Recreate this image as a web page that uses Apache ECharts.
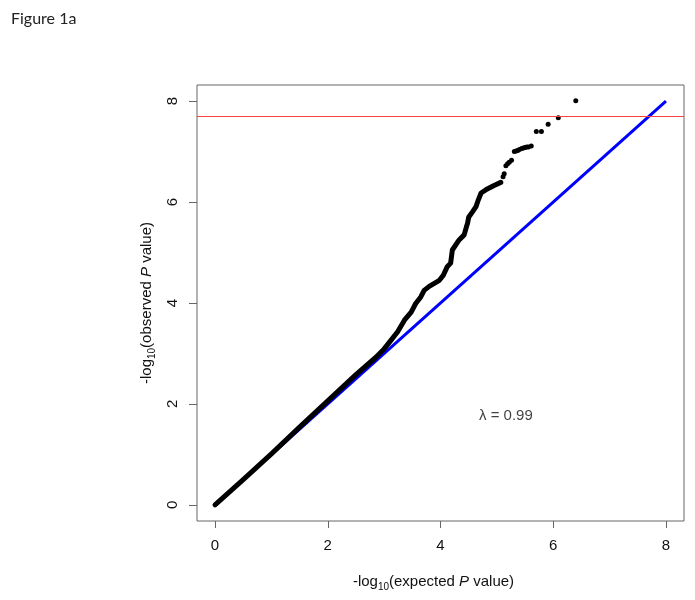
<!DOCTYPE html>
<html>
<head>
<meta charset="utf-8">
<script src="https://cdn.jsdelivr.net/npm/echarts@6.0.0/dist/echarts.min.js"></script>
<style>
html,body{margin:0;padding:0;background:#fff;}
#chart{width:695px;height:600px;}
</style>
</head>
<body>
<div id="chart"></div>
<script>
// Tick values
var xTicks = [0, 2, 4, 6, 8];
var yTicks = [0, 2, 4, 6, 8];
// Dense part of observed QQ curve: [expected, observed]
var denseCurve = [
  [0, 0], [0.5, 0.5], [1.0, 1.01], [1.5, 1.54], [2.0, 2.06], [2.5, 2.58],
  [2.85, 2.92], [3.00, 3.09], [3.12, 3.26], [3.24, 3.43], [3.36, 3.66],
  [3.48, 3.82], [3.56, 3.99], [3.65, 4.12], [3.71, 4.25], [3.80, 4.33],
  [3.98, 4.45], [4.05, 4.55], [4.12, 4.72], [4.18, 4.79], [4.21, 5.05],
  [4.33, 5.25], [4.42, 5.35], [4.46, 5.51], [4.48, 5.58], [4.50, 5.70],
  [4.57, 5.81], [4.63, 5.91], [4.67, 6.04], [4.72, 6.18], [4.83, 6.26],
  [4.95, 6.33], [5.07, 6.39]
];
// Sparse top points: [expected, observed]
var topPoints = [
  [5.11, 6.50], [5.13, 6.56], [5.16, 6.72], [5.19, 6.76], [5.22, 6.79],
  [5.26, 6.83], [5.31, 7.00], [5.34, 7.01], [5.37, 7.02], [5.40, 7.04],
  [5.44, 7.06], [5.47, 7.07], [5.50, 7.08], [5.53, 7.09], [5.56, 7.09],
  [5.61, 7.11], [5.70, 7.40], [5.79, 7.40], [5.91, 7.54], [6.09, 7.67],
  [6.40, 8.01]
];
// Expected null line
var nullLine = [[0, 0], [8, 8]];
// Significance threshold
var threshold = 7.7;
// Lambda annotation
var lambdaText = 'λ = 0.99';
var lambdaPos = [5.16, 1.76];

var chart = echarts.init(document.getElementById('chart'), null, {renderer: 'canvas'});
var font = 'Liberation Sans';
var richName = {
  n: {fontFamily: font, fontSize: 15, color: '#111', lineHeight: 20, verticalAlign: 'middle'},
  i: {fontFamily: font, fontSize: 15, color: '#111', fontStyle: 'italic', lineHeight: 20, verticalAlign: 'middle'},
  s: {fontFamily: font, fontSize: 10, color: '#111', lineHeight: 20, verticalAlign: 'bottom'}
};
var option = {
  animation: false,
  backgroundColor: '#fff',
  title: {
    text: 'Figure 1a', left: 6, top: 6,
    textStyle: {fontFamily: 'Lato', fontSize: 16, fontWeight: 'normal', color: '#222'}
  },
  grid: {left: 197, right: 11, top: 85, bottom: 79, show: true, borderColor: '#666', borderWidth: 1, backgroundColor: 'transparent'},
  xAxis: {
    type: 'value', min: -0.32, max: 8.32,
    axisLine: {show: false, onZero: false},
    splitLine: {show: false},
    axisTick: {show: true, inside: false, customValues: xTicks, length: 7, lineStyle: {color: '#666'}},
    axisLabel: {customValues: xTicks, margin: 17, fontFamily: font, fontSize: 15, color: '#111'},
    name: '{n|-log}{s|10}{n|(expected }{i|P}{n| value)}',
    nameLocation: 'middle', nameGap: 51,
    nameTextStyle: {padding: [0, 14, 0, 0], rich: richName}
  },
  yAxis: {
    type: 'value', min: -0.32, max: 8.32,
    axisLine: {show: false, onZero: false},
    splitLine: {show: false},
    axisTick: {show: true, inside: false, customValues: yTicks, length: 8, lineStyle: {color: '#666'}},
    axisLabel: {customValues: yTicks, margin: 17, rotate: 90, fontFamily: font, fontSize: 15, color: '#111'},
    name: '{n|-log}{s|10}{n|(observed }{i|P}{n| value)}',
    nameLocation: 'middle', nameGap: 40,
    nameTextStyle: {rich: richName}
  },
  series: [
    {
      type: 'line', data: nullLine, showSymbol: false, z: 2,
      lineStyle: {color: '#0000ff', width: 3},
      markLine: {
        silent: true, symbol: 'none', label: {show: false},
        lineStyle: {color: '#ff4040', width: 1, type: 'solid'},
        data: [{yAxis: threshold}]
      }
    },
    {
      type: 'line', data: denseCurve, showSymbol: false, z: 3,
      lineStyle: {color: '#000', width: 5, cap: 'round', join: 'round'}
    },
    {
      type: 'scatter', data: topPoints, symbol: 'circle', symbolSize: 5, z: 3,
      itemStyle: {color: '#000', opacity: 1}
    },
    {
      type: 'scatter', data: [lambdaPos], symbolSize: 0,
      label: {show: true, position: 'inside', formatter: lambdaText, fontFamily: font, fontSize: 15, color: '#111'}
    }
  ]
};
chart.setOption(option);
</script>
</body>
</html>
